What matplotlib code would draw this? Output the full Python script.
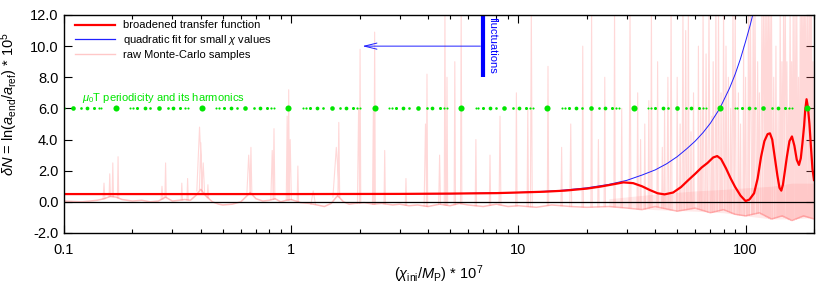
import numpy as np
import matplotlib
matplotlib.use('Agg')
from matplotlib import pyplot as plt

plt.rcParams['font.family'] = ['Liberation Sans', 'DejaVu Sans']
plt.rcParams['mathtext.fontset'] = 'custom'
plt.rcParams['mathtext.rm'] = 'Liberation Sans'
plt.rcParams['mathtext.it'] = 'Liberation Sans:italic'

# broadened transfer function (red)
tf_x = [0.1, 1, 3, 5, 8, 10, 13, 16, 20, 23, 26, 29, 32, 35, 38, 41, 44, 48, 52, 56,
        60, 64, 68, 72, 75, 78, 82, 86, 90, 95, 100, 104, 109, 113, 117, 121, 125, 128,
        131, 134, 138, 141, 143.6, 146, 149, 152, 156, 160, 164, 168, 171.8, 175, 178,
        181, 183, 185.5, 188, 191, 194, 197, 200]
tf_y = [0.5, 0.5, 0.51, 0.53, 0.56, 0.6, 0.65, 0.72, 0.85, 0.98, 1.12, 1.25, 1.2, 1.0,
        0.75, 0.55, 0.48, 0.6, 0.95, 1.4, 1.8, 2.2, 2.5, 2.85, 2.94, 2.75, 2.15, 1.5,
        0.95, 0.4, 0.05, 0.15, 0.55, 1.5, 2.9, 3.9, 4.35, 4.4, 4.0, 3.0, 1.7, 0.9, 0.72,
        1.1, 2.0, 2.9, 3.9, 4.2, 3.6, 2.7, 2.37, 2.8, 3.8, 4.9, 5.9, 6.59, 6.1, 5.0, 3.5,
        2.1, 1.4]

# quadratic fit (blue)
fit_x = [0.1, 1, 5, 10, 15, 20, 25, 30, 35, 40, 45, 50, 55, 60, 65, 70, 77, 85, 90,
         95, 100, 105, 110]
fit_y = [0.5, 0.5, 0.52, 0.6, 0.72, 0.9, 1.12, 1.38, 1.72, 2.05, 2.45, 2.9, 3.4, 3.9,
         4.45, 5.05, 6.0, 7.3, 8.2, 9.2, 10.3, 11.4, 12.6]

# raw Monte-Carlo samples: baseline wiggle + spikes
base_x = [0.1, 0.11, 0.12, 0.13, 0.14, 0.15, 0.16, 0.17, 0.18, 0.19, 0.2, 0.22, 0.24,
          0.26, 0.28, 0.3, 0.32, 0.34, 0.36, 0.38, 0.4, 0.42, 0.45, 0.48, 0.5, 0.55, 0.6,
          0.63, 0.66, 0.7, 0.75, 0.8, 0.85, 0.9, 0.95, 1.0, 1.1, 1.2, 1.3, 1.4, 1.5, 1.6,
          1.7, 1.8, 1.9, 2.1, 2.3, 2.5, 2.8, 3.0, 3.3, 3.6, 4.0, 4.5, 5, 5.5, 6, 7, 8, 9,
          10, 12, 14, 17, 20, 25, 30, 35, 40, 50, 60, 70, 80, 90, 100, 115, 130, 145,
          160, 180, 200]
base_y = [0.05, 0.02, 0.0, 0.05, 0.1, 0.2, 0.35, 0.3, 0.15, 0.1, 0.05, 0.1, 0.0, 0.05,
          0.3, 0.05, 0.1, 0.15, 0.1, 0.4, 0.8, 0.4, 0.0, -0.15, -0.2, -0.15, 0.0, 0.3,
          0.6, 0.2, 0.05, 0.1, 0.2, 0.0, 0.1, 0.15, -0.05, -0.1, -0.2, -0.3, -0.1, 0.4,
          0.0, -0.15, -0.1, -0.05, -0.15, -0.1, -0.2, -0.15, -0.25, -0.2, -0.3, -0.15,
          -0.25, -0.1, -0.2, -0.3, -0.15, -0.3, -0.25, -0.35, -0.2, -0.3, -0.35, -0.3,
          -0.4, -0.5, -0.3, -0.6, -0.4, -0.7, -0.5, -0.8, -0.9, -0.7, -1.1, -0.9, -1.2,
          -0.9, -1.1]
spike_x = [0.15, 0.159, 0.164, 0.173, 0.27, 0.28, 0.33, 0.35, 0.395, 0.40, 0.41, 0.43,
           0.65, 0.665, 0.825, 0.84, 0.96, 0.975, 0.99, 1.07, 1.25, 1.58, 1.62, 1.98,
           2.01, 2.30, 2.33, 2.58, 3.2, 3.9, 3.96, 4.5, 4.75, 4.85, 5.25, 5.6, 6.5, 7.5,
           8.3, 9.8, 11.0, 11.4, 13.5, 15.5, 17.0, 19.2, 21.0, 22.5, 24.0, 26.5, 28.5,
           31.0, 33.5, 36.0, 38.5, 41.0, 44.0, 47.0, 50.0, 53.0, 56.0, 59.0, 62.0, 65.0,
           69.0, 72.0, 76.0, 80.0, 84.0, 88.0, 93.0, 98.0, 103.0, 108.0, 113.0, 118.0,
           122.0, 126.0, 130.0, 136.0, 142.0, 147.0, 152.0, 157.0, 162.0, 168.0, 174.0,
           179.0, 184.0, 190.0, 195.0,
           34.5, 37.5, 43.0, 45.5, 51.5, 54.5, 57.5, 63.5, 67.0, 71.0, 74.0, 78.0, 82.0,
           86.0, 90.0, 95.0, 100.0, 105.0, 110.0, 115.0, 120.0, 124.0, 128.0, 133.0,
           139.0, 144.5, 149.5, 154.5, 159.5, 165.0, 171.0, 176.5, 181.5, 187.0, 192.5,
           198.0]
spike_h = [1.2, 1.8, 2.5, 2.9, 1.0, 2.5, 1.2, 1.5, 4.8, 3.8, 2.5, 1.1,
           3.0, 3.5, 3.3, 4.7, 5.5, 7.2, 4.0, 2.3, 0.7, 3.5, 5.1, 6.0,
           9.8, 6.0, 10.9, 3.3, 1.5, 5.0, 8.2, 3.0, 12.5, 8.0, 9.0, 12.5, 4.0, 3.0,
           5.5, 7.0, 6.0, 12.5, 8.7, 3.5, 5.0, 10.0, 12.5, 4.0, 8.0, 12.5, 6.0,
           12.5, 7.0, 5.0, 12.5, 9.0, 6.0, 12.5, 8.0, 12.5, 12.5, 7.0, 10.0, 12.5,
           12.5, 9.0, 12.5, 12.5, 8.0, 12.5, 7.0, 10.0, 12.5, 12.5, 9.0, 12.5,
           12.5, 12.5, 12.5, 10.0, 12.5, 12.5, 9.0, 12.5, 12.5, 12.5, 12.5,
           12.5, 12.5, 12.5, 12.5,
           4.0, 6.5, 3.5, 8.0, 5.0, 11.0, 4.5, 6.0, 9.5, 5.5, 12.5, 7.0, 10.0,
           6.0, 12.5, 5.0, 8.0, 12.5, 12.5, 7.0, 12.5, 12.5, 12.5, 8.0,
           6.0, 9.0, 12.5, 6.0, 9.0, 12.5, 8.0, 12.5, 12.5, 12.5, 12.5,
           9.0]
spike_w = [0.004, 0.003, 0.003, 0.003, 0.004, 0.003, 0.003, 0.003, 0.012, 0.006, 0.006, 0.003,
           0.008, 0.004, 0.006, 0.004, 0.004, 0.003, 0.005, 0.003, 0.01, 0.015, 0.004, 0.005,
           0.003, 0.004, 0.003, 0.003, 0.003, 0.006, 0.003, 0.004, 0.003, 0.003, 0.003, 0.003,
           0.003, 0.003, 0.004, 0.003, 0.003, 0.004, 0.003, 0.003, 0.004, 0.003, 0.003,
           0.003, 0.003, 0.003, 0.003, 0.004, 0.003, 0.003, 0.003, 0.003, 0.003, 0.004,
           0.003, 0.004, 0.003, 0.003, 0.003, 0.004, 0.005, 0.003, 0.004, 0.004, 0.003,
           0.005, 0.003, 0.003, 0.004, 0.004, 0.003, 0.005, 0.005, 0.006, 0.005, 0.004,
           0.004, 0.005, 0.004, 0.005, 0.004, 0.005, 0.004, 0.005, 0.005, 0.005, 0.004,
           0.003, 0.003, 0.003, 0.004, 0.003, 0.004, 0.003, 0.003, 0.004, 0.003, 0.004,
           0.003, 0.004, 0.003, 0.004, 0.003, 0.004, 0.006, 0.006, 0.004, 0.006, 0.006,
           0.006, 0.004, 0.003, 0.004, 0.006, 0.003, 0.004, 0.006, 0.004, 0.006, 0.006,
           0.006, 0.006, 0.004]
band_x = [25, 40, 60, 80, 100, 130, 160, 200]
band_lo = [-0.3, -0.5, -0.6, -0.7, -0.9, -1.1, -1.1, -1.0]
band_hi = [0.2, 0.5, 0.7, 0.8, 0.9, 1.0, 1.2, 1.2]

# mu0 T periodicity (large dots) and harmonic fractions
period_x = [0.0705, 0.169, 0.405, 0.973, 2.33, 5.6, 13.4, 32.2, 77.3, 185.5]
harm_frac = [1/6, 1/5, 1/4, 1/3, 2/5, 1/2, 3/5, 2/3, 3/4, 4/5, 5/6]
harm_size = [1.5, 1.6, 2.2, 2.7, 1.9, 3.3, 1.9, 2.7, 2.2, 1.6, 1.5]
dot_level = 6.0

# arrow / bar marking "fluctuations"
arrow_x = [7.0, 2.0]
arrow_y = 10.0
bar_y = [8.0, 12.0]

fig = plt.figure(figsize=(8.3, 2.9), dpi=100)
ax = fig.add_axes([0.0771, 0.1966, 0.9036, 0.7517])

pink = '#ff7070'
green = '#00e600'
blue = '#2020ff'
# raw samples
ax.fill_between(band_x, band_lo, band_hi, color='#ffb8b8', alpha=0.3, lw=0)
ax.plot(base_x, base_y, color=pink, alpha=0.45, lw=1.1)
lb = np.log10(base_x)
sx, sy = [], []
for x, h, w in zip(spike_x, spike_h, spike_w):
    b = np.interp(np.log10(x), lb, base_y)
    sx += [x * 10 ** (-w), x, x * 10 ** w, np.nan]
    sy += [b, h, b, np.nan]
ax.plot(sx, sy, color=pink, alpha=0.27, lw=0.8)

ax.axhline(0, color='black', lw=0.9)

ax.plot(fit_x, fit_y, color=blue, lw=0.7)
ax.plot(tf_x, tf_y, color='red', lw=1.6)

# green dots
for i in range(len(period_x) - 1):
    lo, hi = period_x[i], period_x[i + 1]
    ax.plot([lo], [dot_level], 'o', color=green, ms=4.4, mec='none')
    for f, s in zip(harm_frac, harm_size):
        ax.plot([lo * (hi / lo) ** f], [dot_level], 'o', color=green, ms=s, mec='none')
ax.plot([period_x[-1]], [dot_level], 'o', color=green, ms=4.4, mec='none')
ax.text(0.12, 6.45, r'$\mu_0$T periodicity and its harmonics', color=green, fontsize=8)

ax.annotate('', xy=(arrow_x[1], arrow_y), xytext=(arrow_x[0], arrow_y),
            arrowprops=dict(arrowstyle='->,head_length=0.9,head_width=0.22', color=blue, lw=0.7))
ax.plot([arrow_x[0], arrow_x[0]], bar_y, color='blue', lw=3, solid_capstyle='butt', clip_on=False)
ax.text(7.3, 11.85, 'fluctuations', color='blue', fontsize=8, rotation=270, ha='left', va='top')

ax.set_xscale('log')
ax.set_xlim(0.1, 200)
ax.set_ylim(-2, 12)
ax.set_xticks([0.1, 1, 10, 100])
ax.set_xticklabels(['0.1', '1', '10', '100'])
ax.set_yticks(np.arange(-2, 12.1, 2))
ax.set_yticklabels(['%.1f' % v for v in np.arange(-2, 12.1, 2)])
ax.tick_params(which='both', direction='in', top=True, right=True, labelsize=10.5, width=0.8)
ax.tick_params(which='major', length=6)
ax.tick_params(which='minor', length=3)
ax.tick_params(axis='x', pad=7)
ax.tick_params(axis='y', pad=4)
for sp in ax.spines.values():
    sp.set_linewidth(1.0)

ax.set_xlabel(r'$(\chi_{\rm ini}/M_{\rm P})$ * 10$^7$', fontsize=10.5, labelpad=5)
ax.set_ylabel(r'$\delta N$ = ln$(a_{\rm end}/a_{\rm ref})$ * 10$^5$', fontsize=10.5)
ax.yaxis.set_label_coords(-0.058, 0.59)

h1, = ax.plot([], [], color='red', lw=1.6)
h2, = ax.plot([], [], color=blue, lw=0.9)
h3, = ax.plot([], [], color='#ffc8c8', lw=1.0)
ax.legend([h1, h2, h3], ['broadened transfer function', r'quadratic fit for small $\chi$ values',
                         'raw Monte-Carlo samples'],
          loc='upper left', bbox_to_anchor=(0.012, 0.985), frameon=False, fontsize=8,
          handlelength=3.6, handletextpad=0.7, labelspacing=0.25, borderpad=0.2, borderaxespad=0)

fig.savefig('out.png', dpi=100)
